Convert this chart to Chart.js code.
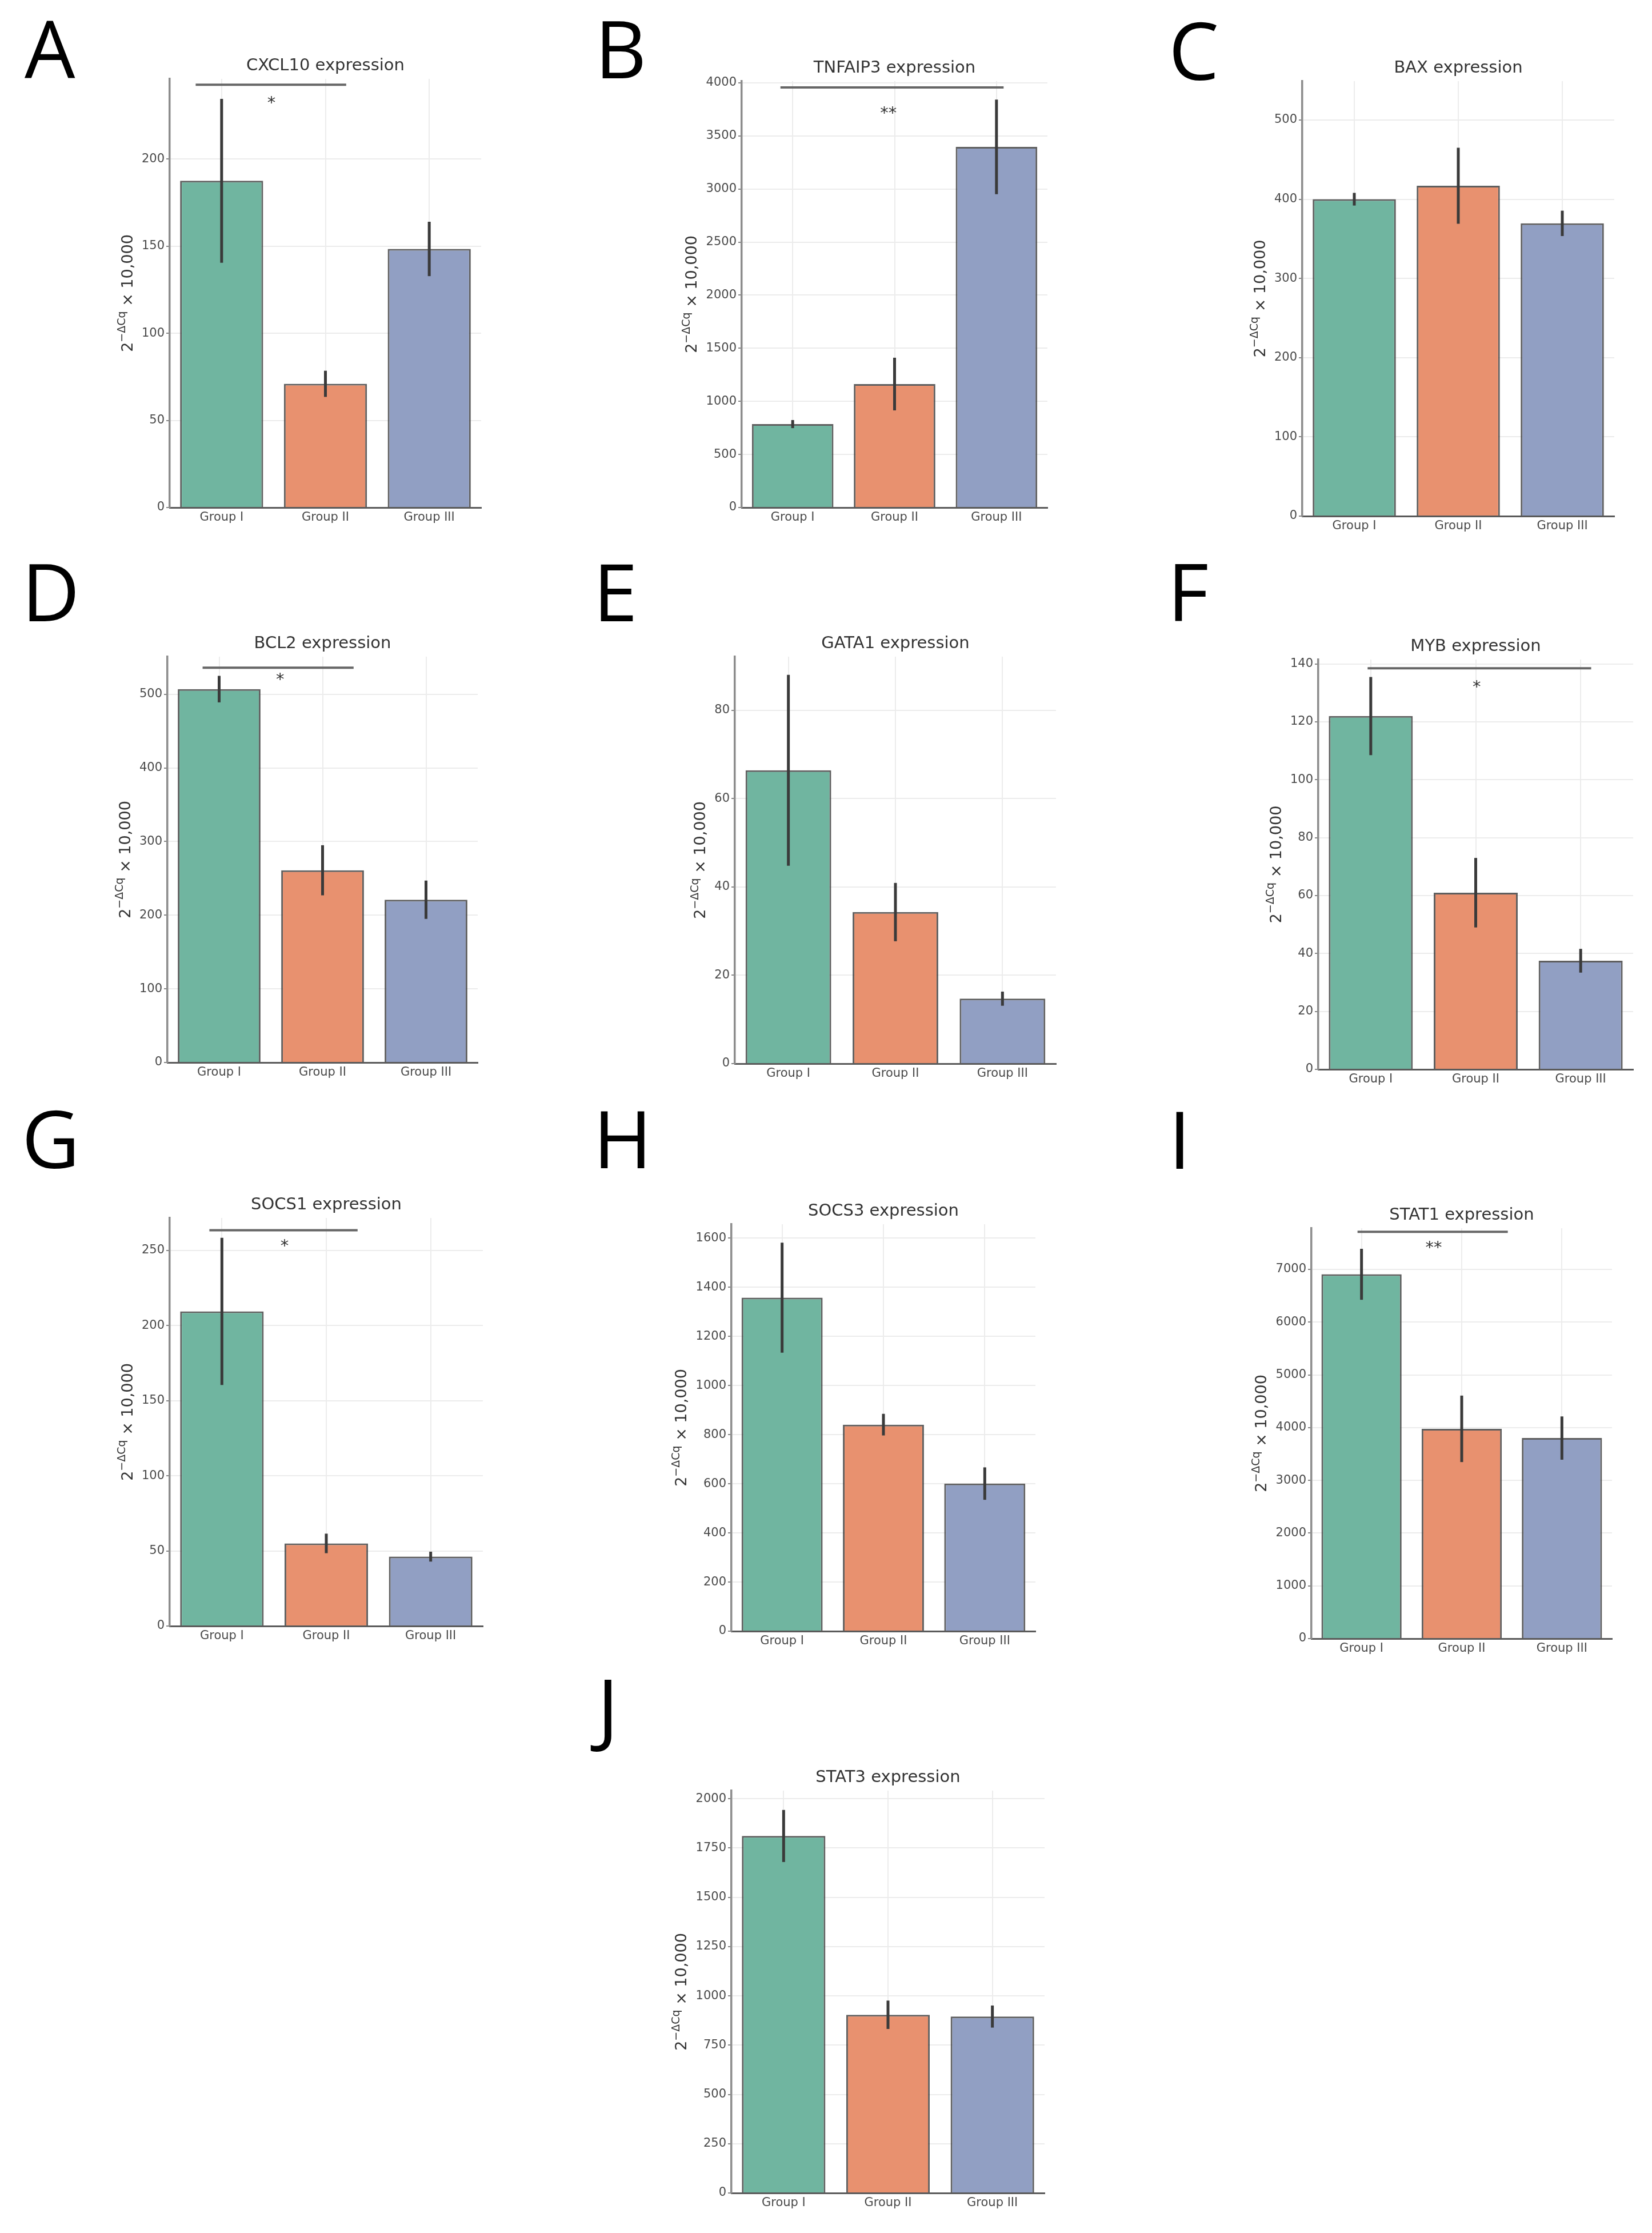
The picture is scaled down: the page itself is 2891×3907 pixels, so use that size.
<!DOCTYPE html>
<html>
<head>
<meta charset="utf-8">
<script src="https://cdn.jsdelivr.net/npm/chart.js@4.4.1/dist/chart.umd.min.js"></script>
<style>
  html, body { margin: 0; padding: 0; background: #fff; }
  #page { position: relative; width: 2891px; height: 3907px; overflow: hidden; background: #fff; }
  .letter { position: absolute; font-family: "Open Sans", "Liberation Sans", sans-serif; font-size: 140px; line-height: 1; color: #000; }
  .panel { position: absolute; }
</style>
</head>
<body>
<div id="page"></div>
<script>
// categories
const groups = ['Group I', 'Group II', 'Group III'];

// means and error (half-length of the error bar) per gene
const cxcl10Mean = [187.5, 71, 148.4];
const cxcl10Err = [47, 7.5, 15.6];
const tnfaip3Mean = [786, 1163, 3397];
const tnfaip3Err = [38, 248, 445];
const baxMean = [400, 417, 369.5];
const baxErr = [8, 48, 16];
const bcl2Mean = [507, 261, 221];
const bcl2Err = [18, 34, 26];
const gata1Mean = [66.4, 34.3, 14.7];
const gata1Err = [21.6, 6.6, 1.6];
const mybMean = [122, 61, 37.5];
const mybErr = [13.5, 12, 4.1];
const socs1Mean = [209.5, 55, 46.2];
const socs1Err = [49, 6.5, 3.3];
const socs3Mean = [1358, 841, 601];
const socs3Err = [224, 44, 66];
const stat1Mean = [6907, 3977, 3802];
const stat1Err = [483, 630, 410];
const stat3Mean = [1811, 904, 895];
const stat3Err = [132, 72, 56];

const barColors = ['#70b5a0', '#e8916f', '#919fc3'];
const FONT = '"DejaVu Sans", "Liberation Sans", sans-serif';
const TICK_SIZE = 21;
const TITLE_SIZE = 29;
const LABEL_SIZE = 27;
const PAD_LEFT = 140, PAD_TOP = 110, PAD_RIGHT = 30, PAD_BOTTOM = 60;

// page layout of each panel (axis box in page pixels)
const panels = [
  { letter: 'A', lx: 43, ly: 37, title: 'CXCL10 expression', mean: cxcl10Mean, err: cxcl10Err,
    left: 297, right: 842, top: 138, bottom: 888, yMax: 246, step: 50,
    sig: { from: -0.25, to: 1.20, y: 242.6, at: 0.48, ty: 235, text: '*' } },
  { letter: 'B', lx: 1041, ly: 37, title: 'TNFAIP3 expression', mean: tnfaip3Mean, err: tnfaip3Err,
    left: 1298, right: 1833, top: 142, bottom: 888, yMax: 4016, step: 500,
    sig: { from: -0.12, to: 2.07, y: 3957, at: 0.94, ty: 3758, text: '**' } },
  { letter: 'C', lx: 2045, ly: 40, title: 'BAX expression', mean: baxMean, err: baxErr,
    left: 2279, right: 2825, top: 142, bottom: 903, yMax: 549, step: 100 },
  { letter: 'D', lx: 38, ly: 987, title: 'BCL2 expression', mean: bcl2Mean, err: bcl2Err,
    left: 293, right: 836, top: 1149, bottom: 1859, yMax: 551, step: 100,
    sig: { from: -0.16, to: 1.30, y: 536, at: 0.59, ty: 526, text: '*' } },
  { letter: 'E', lx: 1038, ly: 987, title: 'GATA1 expression', mean: gata1Mean, err: gata1Err,
    left: 1286, right: 1848, top: 1149, bottom: 1861, yMax: 92.1, step: 20 },
  { letter: 'F', lx: 2043, ly: 987, title: 'MYB expression', mean: mybMean, err: mybErr,
    left: 2307, right: 2858, top: 1154, bottom: 1871, yMax: 141.5, step: 20,
    sig: { from: -0.03, to: 2.10, y: 138.5, at: 1.01, ty: 133.6, text: '*' } },
  { letter: 'G', lx: 38, ly: 1944, title: 'SOCS1 expression', mean: socs1Mean, err: socs1Err,
    left: 297, right: 845, top: 2131, bottom: 2845, yMax: 271.7, step: 50,
    sig: { from: -0.12, to: 1.30, y: 263.5, at: 0.60, ty: 256, text: '*' } },
  { letter: 'H', lx: 1038, ly: 1944, title: 'SOCS3 expression', mean: socs3Mean, err: socs3Err,
    left: 1280, right: 1812, top: 2142, bottom: 2854, yMax: 1657, step: 200 },
  { letter: 'I', lx: 2045, ly: 1945, title: 'STAT1 expression', mean: stat1Mean, err: stat1Err,
    left: 2295, right: 2821, top: 2149, bottom: 2867, yMax: 7780, step: 1000,
    sig: { from: -0.04, to: 1.46, y: 7712, at: 0.72, ty: 7497, text: '**' } },
  { letter: 'J', lx: 1045, ly: 2939, title: 'STAT3 expression', mean: stat3Mean, err: stat3Err,
    left: 1280, right: 1828, top: 3133, bottom: 3837, yMax: 2041, step: 250 }
];

// draws "2^(−ΔCq) × 10,000" rotated, centred on (cx, cy)
function drawYLabel(ctx, cx, cy) {
  const big = LABEL_SIZE + 'px ' + FONT;
  const small = Math.round(LABEL_SIZE * 0.7) + 'px ' + FONT;
  ctx.save();
  ctx.translate(cx, cy);
  ctx.rotate(-Math.PI / 2);
  ctx.fillStyle = '#333';
  ctx.textAlign = 'left';
  ctx.textBaseline = 'alphabetic';
  ctx.font = big;
  const w1 = ctx.measureText('2').width;
  const w3 = ctx.measureText(' × 10,000').width;
  ctx.font = small;
  const w2 = ctx.measureText('−ΔCq').width;
  let x = -(w1 + w2 + w3) / 2;
  const base = LABEL_SIZE * 0.36;
  ctx.font = big;
  ctx.fillText('2', x, base);
  x += w1;
  ctx.font = small;
  ctx.fillText('−ΔCq', x, base - LABEL_SIZE * 0.45);
  x += w2;
  ctx.font = big;
  ctx.fillText(' × 10,000', x, base);
  ctx.restore();
}

function makeDecor(p) {
  return {
    id: 'decor' + p.letter,
    afterDatasetsDraw(chart) {
      const ctx = chart.ctx;
      const area = chart.chartArea;
      const xs = chart.scales.x, ys = chart.scales.y;

      // error bars
      ctx.save();
      ctx.strokeStyle = '#3a3a3a';
      ctx.lineWidth = 5;
      chart.getDatasetMeta(0).data.forEach((bar, i) => {
        ctx.beginPath();
        ctx.moveTo(bar.x, ys.getPixelForValue(p.mean[i] + p.err[i]));
        ctx.lineTo(bar.x, ys.getPixelForValue(p.mean[i] - p.err[i]));
        ctx.stroke();
      });
      ctx.restore();

      // title
      ctx.save();
      ctx.fillStyle = '#333';
      ctx.font = TITLE_SIZE + 'px ' + FONT;
      ctx.textAlign = 'center';
      ctx.textBaseline = 'middle';
      ctx.fillText(p.title, (area.left + area.right) / 2, area.top - 23);
      ctx.restore();

      // significance bracket
      if (p.sig) {
        const x0 = xs.getPixelForValue(0);
        const band = xs.getPixelForValue(1) - x0;
        const y = ys.getPixelForValue(p.sig.y);
        ctx.save();
        ctx.strokeStyle = '#666';
        ctx.lineWidth = 4;
        ctx.beginPath();
        ctx.moveTo(x0 + p.sig.from * band, y);
        ctx.lineTo(x0 + p.sig.to * band, y);
        ctx.stroke();
        ctx.fillStyle = '#333';
        ctx.font = TITLE_SIZE + 'px ' + FONT;
        ctx.textAlign = 'center';
        ctx.textBaseline = 'alphabetic';
        ctx.fillText(p.sig.text, x0 + p.sig.at * band, ys.getPixelForValue(p.sig.ty) + TITLE_SIZE * 0.59);
        ctx.restore();
      }

      // y axis label, left of the widest tick label
      ctx.save();
      ctx.font = TICK_SIZE + 'px ' + FONT;
      let maxW = 0;
      ys.ticks.forEach(t => { maxW = Math.max(maxW, ctx.measureText(String(t.label)).width); });
      ctx.restore();
      drawYLabel(ctx, area.left - 6 - 3 - maxW - 16 - 10, (area.top + area.bottom) / 2);
    }
  };
}

const page = document.getElementById('page');

panels.forEach(p => {
  const letter = document.createElement('div');
  letter.className = 'letter';
  letter.textContent = p.letter;
  letter.style.left = p.lx + 'px';
  letter.style.top = (p.ly - 24) + 'px';
  page.appendChild(letter);

  const w = (p.right - p.left) + PAD_LEFT + PAD_RIGHT;
  const h = (p.bottom - p.top) + PAD_TOP + PAD_BOTTOM;
  const holder = document.createElement('div');
  holder.className = 'panel';
  holder.style.left = (p.left - PAD_LEFT) + 'px';
  holder.style.top = (p.top - PAD_TOP) + 'px';
  holder.style.width = w + 'px';
  holder.style.height = h + 'px';
  const canvas = document.createElement('canvas');
  canvas.width = w;
  canvas.height = h;
  canvas.style.width = w + 'px';
  canvas.style.height = h + 'px';
  holder.appendChild(canvas);
  page.appendChild(holder);

  new Chart(canvas, {
    type: 'bar',
    data: {
      labels: groups,
      datasets: [{
        data: p.mean,
        backgroundColor: barColors,
        borderColor: 'rgba(55, 55, 55, 0.8)',
        borderWidth: 3,
        borderSkipped: 'start',
        barPercentage: 0.8,
        categoryPercentage: 1
      }]
    },
    options: {
      responsive: false,
      animation: false,
      devicePixelRatio: 1,
      layout: { padding: { left: 0, top: PAD_TOP, right: PAD_RIGHT, bottom: 0 } },
      plugins: {
        legend: { display: false },
        tooltip: { enabled: false },
        title: { display: false }
      },
      scales: {
        x: {
          offset: true,
          grid: { offset: false, color: '#ececec', lineWidth: 2, drawTicks: false },
          border: { color: '#5a5a5a', width: 3 },
          ticks: { font: { family: FONT, size: TICK_SIZE }, color: '#4a4a4a', padding: 5, maxRotation: 0 },
          afterFit: s => { s.height = PAD_BOTTOM; }
        },
        y: {
          min: 0,
          max: p.yMax,
          ticks: {
            font: { family: FONT, size: TICK_SIZE }, color: '#4a4a4a', padding: 3,
            callback: v => String(v)
          },
          grid: { color: '#ececec', lineWidth: 2, tickLength: 6, tickColor: '#888', tickWidth: 2 },
          border: { color: '#8c8c8c', width: 3.5 },
          // only multiples of the step, never the axis top
          afterBuildTicks: axis => {
            const list = [];
            for (let v = 0; v <= p.yMax + 1e-9; v += p.step) list.push({ value: v });
            axis.ticks = list;
          },
          afterFit: s => { s.width = PAD_LEFT; }
        }
      }
    },
    plugins: [makeDecor(p)]
  });
});
</script>
</body>
</html>
